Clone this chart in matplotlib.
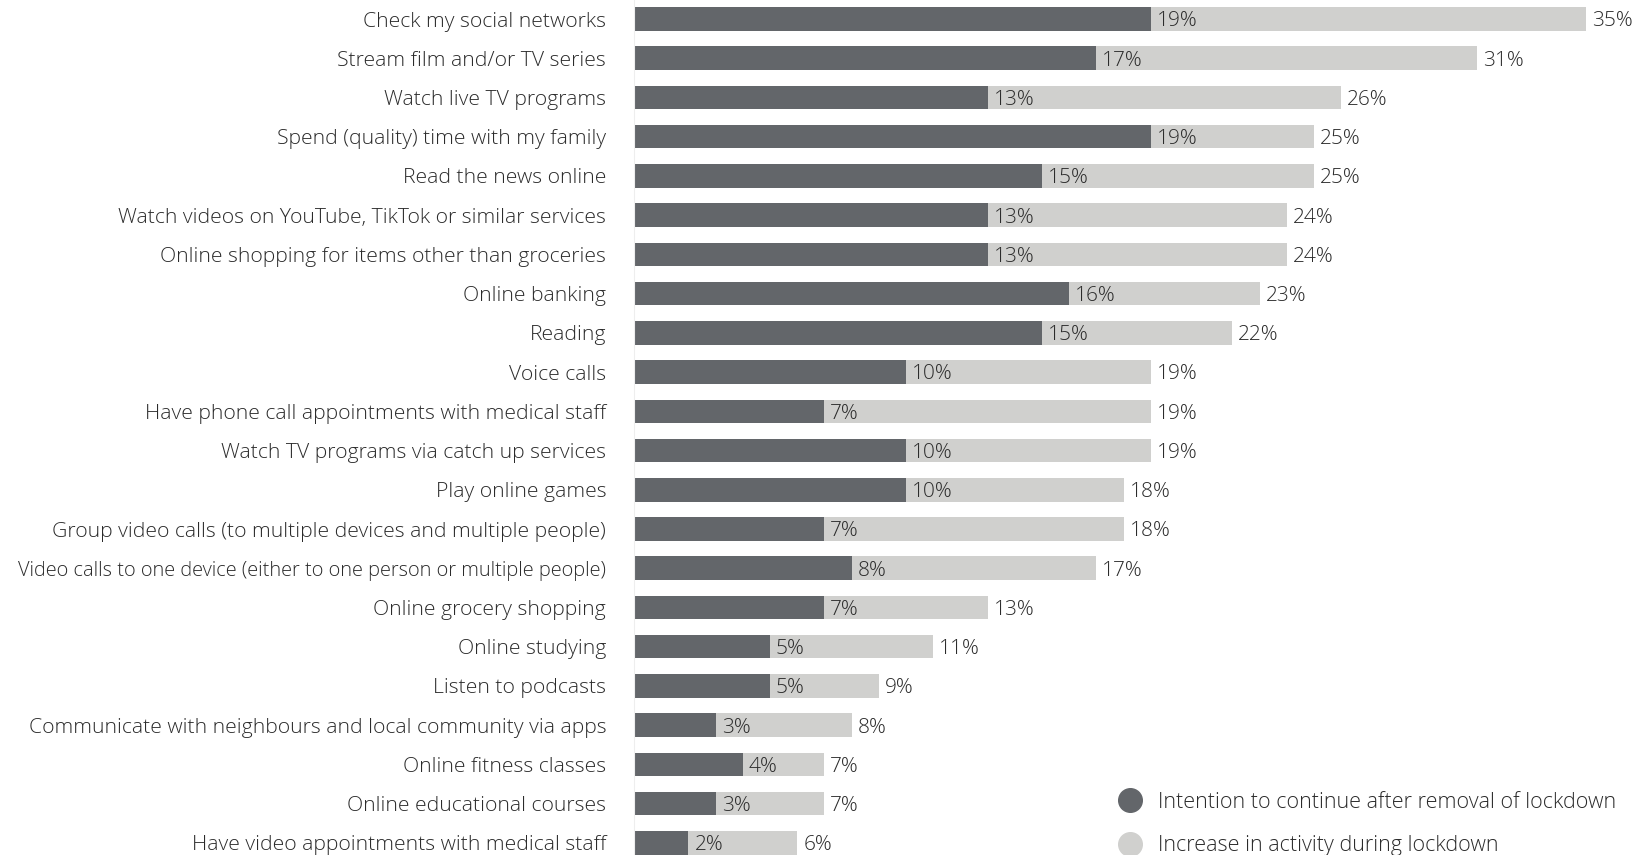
import matplotlib
matplotlib.use('Agg')
import matplotlib.pyplot as plt
from matplotlib.lines import Line2D

plt.rcParams['font.family'] = ['Open Sans', 'DejaVu Sans']

categories = [
    'Check my social networks',
    'Stream film and/or TV series',
    'Watch live TV programs',
    'Spend (quality) time with my family',
    'Read the news online',
    'Watch videos on YouTube, TikTok or similar services',
    'Online shopping for items other than groceries',
    'Online banking',
    'Reading',
    'Voice calls',
    'Have phone call appointments with medical staff',
    'Watch TV programs via catch up services',
    'Play online games',
    'Group video calls (to multiple devices and multiple people)',
    'Video calls to one device (either to one person or multiple people)',
    'Online grocery shopping',
    'Online studying',
    'Listen to podcasts',
    'Communicate with neighbours and local community via apps',
    'Online fitness classes',
    'Online educational courses',
    'Have video appointments with medical staff',
]
intention = [19, 17, 13, 19, 15, 13, 13, 16, 15, 10, 7, 10, 10, 7, 8, 7, 5, 5, 3, 4, 3, 2]
increase = [35, 31, 26, 25, 25, 24, 24, 23, 22, 19, 19, 19, 18, 18, 17, 13, 11, 9, 8, 7, 7, 6]

DARK = '#63666a'
LIGHT = '#d0d0ce'
TEXT = '#2b2b2b'

fig = plt.figure(figsize=(16.39, 8.55), dpi=100)
ax = fig.add_axes([634 / 1639, 0, 1 - 634 / 1639, 1])

y = list(range(len(categories)))
ax.barh(y, increase, height=0.6, color=LIGHT, zorder=1)
ax.barh(y, intention, height=0.6, color=DARK, zorder=2)

for i, (a, b) in enumerate(zip(intention, increase)):
    ax.text(a + 0.22, i + 0.06, f'{a}%', va='center', ha='left',
            fontsize=15, color=TEXT, fontweight='light', zorder=3)
    ax.text(b + 0.22, i + 0.06, f'{b}%', va='center', ha='left',
            fontsize=15, color=TEXT, fontweight='light', zorder=3)

ax.set_xlim(0, 36.95)
ax.set_ylim(21.31, -0.485)
ax.set_yticks(y)
ax.set_yticklabels(categories, fontsize=15.2, color=TEXT, fontweight='light')
ax.tick_params(axis='y', length=0, pad=20)
ax.set_xticks([])
for s in ['top', 'right', 'bottom']:
    ax.spines[s].set_visible(False)
ax.spines['left'].set_color('#eeeeee')

# the longest label is set a little tighter in the original so it fits
ax.get_yticklabels()[14].set_fontsize(14.4)

handles = [
    Line2D([], [], marker='o', linestyle='', markersize=17, color=DARK),
    Line2D([], [], marker='o', linestyle='', markersize=17, color=LIGHT),
]
fig.legend(handles, ['Intention to continue after removal of lockdown',
                     'Increase in activity during lockdown'],
           loc='lower left', bbox_to_anchor=(1089 / 1639, -0.024),
           frameon=False, labelcolor=TEXT,
           handletextpad=0.3, labelspacing=1.05,
           prop={'weight': 'light', 'size': 15.5})

fig.savefig('out.png', dpi=100)
